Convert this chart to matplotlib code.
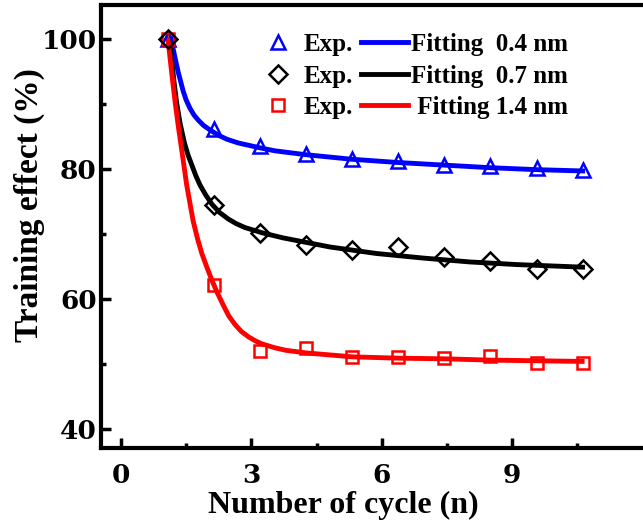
import numpy as np
import matplotlib.pyplot as plt
from matplotlib.ticker import FixedLocator

plt.rcParams['font.family'] = ['Liberation Serif', 'DejaVu Serif']
plt.rcParams['font.weight'] = 'bold'

# measured cycle positions (as read against the x axis of the picture)
cycle_x = [1.08, 2.14, 3.19, 4.25, 5.31, 6.37, 7.43, 8.50, 9.56, 10.62]

# experimental points
exp_04 = [100, 86.2, 83.6, 82.3, 81.6, 81.2, 80.6, 80.4, 80.1, 79.8]
exp_07 = [100, 74.5, 70.1, 68.3, 67.5, 68.0, 66.4, 65.9, 64.6, 64.6]
exp_14 = [100, 62.2, 52.0, 52.5, 51.1, 51.1, 50.9, 51.2, 50.1, 50.2]

# fitting curves
fit04_x = [1.15, 1.19, 1.24, 1.32, 1.43, 1.50, 1.59, 1.68, 1.78, 1.90, 2.05, 2.24,
           2.43, 2.70, 3.24, 3.54, 4.25, 5.31, 6.37, 7.43, 8.50, 9.56, 10.62]
fit04_y = [100, 98.8, 97.2, 94.8, 92.0, 90.6, 89.3, 88.3, 87.5, 86.7, 86.0, 85.2,
           84.6, 84.0, 83.2, 82.8, 82.2, 81.5, 81.0, 80.6, 80.2, 79.9, 79.7]

fit07_x = [1.12, 1.17, 1.22, 1.28, 1.36, 1.46, 1.54, 1.63, 1.72, 1.82, 1.95, 2.09,
           2.27, 2.47, 2.65, 2.85, 3.24, 3.73, 4.81, 5.88, 6.95, 8.03, 9.10, 10.62]
fit07_y = [100, 96.6, 93.4, 90.2, 87.0, 84.0, 82.2, 80.6, 79.0, 77.5, 76.0, 74.6,
           73.3, 72.3, 71.6, 71.0, 70.2, 69.4, 68.0, 67.0, 66.3, 65.7, 65.3, 64.9]

fit14_x = [1.08, 1.13, 1.18, 1.24, 1.32, 1.40, 1.51, 1.66, 1.76, 1.86, 1.97, 2.09,
           2.22, 2.35, 2.48, 2.62, 2.77, 2.93, 3.08, 3.24, 3.39, 3.54, 3.80, 4.27,
           5.33, 6.38, 7.44, 8.49, 9.56, 10.61]
fit14_y = [100, 97.0, 94.0, 90.6, 86.5, 82.8, 77.6, 72.0, 69.3, 67.0, 65.0, 62.9,
           60.9, 59.1, 57.4, 56.1, 55.0, 54.2, 53.6, 53.1, 52.8, 52.5, 52.1, 51.7,
           51.1, 50.9, 50.8, 50.6, 50.5, 50.4]

fig = plt.figure(figsize=(6.43, 5.24), dpi=100)
ax = fig.add_axes([101/643, 76/524, 1 - 101/643, 443/524])

# fitting lines
l04, = ax.plot(fit04_x, fit04_y, color="blue", linewidth=3.5, zorder=2)
l07, = ax.plot(fit07_x, fit07_y, color="black", linewidth=3.5, zorder=2)
l14, = ax.plot(fit14_x, fit14_y, color="red", linewidth=3.5, zorder=2)

# experimental markers
m04, = ax.plot(cycle_x, exp_04, linestyle="none", marker="^", markersize=10,
               markerfacecolor="none", markeredgecolor="blue", markeredgewidth=1.8, zorder=3)
m14, = ax.plot(cycle_x, exp_14, linestyle="none", marker="s", markersize=9,
               markerfacecolor="none", markeredgecolor="red", markeredgewidth=1.8, zorder=3)
m07, = ax.plot(cycle_x, exp_07, linestyle="none", marker="D", markersize=9,
               markerfacecolor="none", markeredgecolor="black", markeredgewidth=1.8, zorder=3)

ax.set_xlim(-0.46, 12.01)
ax.set_ylim(37.08, 105.23)

ax.xaxis.set_major_locator(FixedLocator([0, 3, 6, 9]))
ax.xaxis.set_minor_locator(FixedLocator([1.5, 4.5, 7.5, 10.5]))
ax.yaxis.set_major_locator(FixedLocator([40, 60, 80, 100]))
ax.yaxis.set_minor_locator(FixedLocator([50, 70, 90]))

ax.tick_params(which="both", direction="in", top=False, right=False)
ax.tick_params(which="major", length=7, width=2.5)
ax.tick_params(which="minor", length=3.5, width=2.5)
ax.tick_params(axis="x", which="major", pad=10.5)
ax.tick_params(axis="y", which="major", pad=3)
for lab in ax.get_xticklabels() + ax.get_yticklabels():
    lab.set_fontfamily("DejaVu Serif")
    lab.set_fontweight("bold")
    lab.set_fontsize(19)

for side in ["left", "bottom", "top"]:
    ax.spines[side].set_linewidth(3)
ax.spines["right"].set_visible(False)

ax.set_xlabel("Number of cycle (n)", fontsize=23, fontweight="bold", va="baseline")
ax.xaxis.set_label_coords(0.4465, -0.1467)
ax.set_ylabel("Training effect (%)", fontsize=24, fontweight="bold")
ax.yaxis.set_label_coords(-0.104, 0.5485)

handles = [m04, m07, m14, l04, l07, l14]
labels = ["Exp.", "Exp.", "Exp.", "Fitting  0.4 nm", "Fitting  0.7 nm", " Fitting 1.4 nm"]
fig.legend(handles, labels, ncol=2, frameon=False,
           loc="upper left", bbox_to_anchor=(254/643, 1 - 33/524),
           prop={"family": "Liberation Serif", "weight": "bold", "size": 18},
           handlelength=1.9, handletextpad=0.1, columnspacing=0.3,
           labelspacing=0.34, borderpad=0, borderaxespad=0)

fig.savefig("out.png", dpi=100)
